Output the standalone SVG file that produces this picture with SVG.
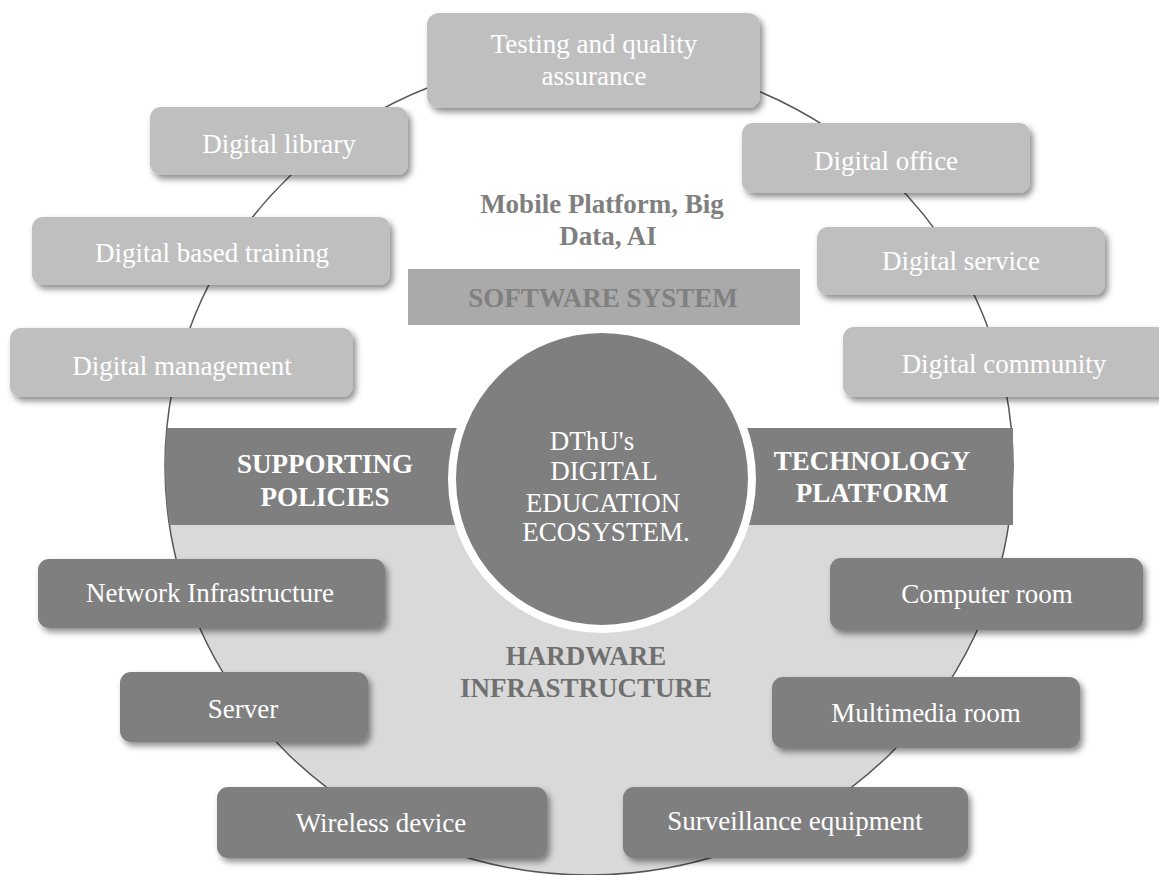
<svg xmlns="http://www.w3.org/2000/svg" width="1159" height="875" viewBox="0 0 1159 875">
  <defs>
    <filter id="shadow" x="-10%" y="-20%" width="130%" height="160%">
      <feDropShadow dx="3" dy="4" stdDeviation="3" flood-color="#000" flood-opacity="0.45"/>
    </filter>
    <clipPath id="ring">
      <ellipse cx="589" cy="466" rx="424" ry="409"/>
    </clipPath>
  </defs>
  <style>
    .light { fill: #bfbfbf; filter: url(#shadow); }
    .dark { fill: #7f7f7f; filter: url(#shadow); }
    .lbl { font-family: "Liberation Serif", "Times New Roman", serif; font-size: 27px; fill: #ffffff; text-anchor: middle; }
    .bold { font-family: "Liberation Serif", "Times New Roman", serif; font-size: 27px; font-weight: bold; text-anchor: middle; }
    .band { fill: #7f7f7f; }
    .conn { fill: none; stroke: #555555; stroke-width: 1.5; }
  </style>

  <rect width="1159" height="875" fill="#ffffff"/>

  <!-- lower half of the ring, shaded -->
  <rect x="0" y="525" width="1159" height="360" fill="#d9d9d9" clip-path="url(#ring)"/>

  <!-- ring outline connecting the surrounding boxes -->
  <g id="connectors">
    <ellipse class="conn" cx="589" cy="466" rx="424" ry="409"/>
  </g>

  <!-- side bands -->
  <g id="supporting-policies">
    <rect class="band" x="160" y="428" width="340" height="97" clip-path="url(#ring)"/>
    <text class="bold" x="325" y="473" fill="#ffffff">SUPPORTING</text>
    <text class="bold" x="325" y="506" fill="#ffffff">POLICIES</text>
  </g>
  <g id="technology-platform">
    <rect class="band" x="700" y="428" width="313" height="97"/>
    <text class="bold" x="872" y="470" fill="#ffffff">TECHNOLOGY</text>
    <text class="bold" x="872" y="502" fill="#ffffff">PLATFORM</text>
  </g>

  <!-- software layer -->
  <g id="software-system">
    <text class="bold" x="602" y="213" fill="#7f7f7f">Mobile Platform, Big</text>
    <text class="bold" x="608" y="245" fill="#7f7f7f">Data, AI</text>
    <rect x="408" y="269" width="392" height="56" fill="#aaaaaa"/>
    <text class="bold" x="603" y="307" fill="#808080">SOFTWARE SYSTEM</text>
  </g>

  <!-- hardware layer label -->
  <g id="hardware-infrastructure">
    <text class="bold" x="586" y="665" fill="#707070">HARDWARE</text>
    <text class="bold" x="586" y="697" fill="#707070">INFRASTRUCTURE</text>
  </g>

  <!-- centre hub -->
  <g id="hub">
    <circle cx="602" cy="479" r="150" fill="#7f7f7f" stroke="#ffffff" stroke-width="8"/>
    <text class="lbl" x="592" y="450">DThU's</text>
    <text class="lbl" x="604" y="480">DIGITAL</text>
    <text class="lbl" x="603" y="512">EDUCATION</text>
    <text class="lbl" x="606" y="541">ECOSYSTEM.</text>
  </g>

  <!-- software services -->
  <g id="testing">
    <rect class="light" x="427" y="13" width="333" height="95" rx="12"/>
    <text class="lbl" x="594" y="53">Testing and quality</text>
    <text class="lbl" x="594" y="85">assurance</text>
  </g>
  <g id="digital-library">
    <rect class="light" x="150" y="107" width="258" height="68" rx="11"/>
    <text class="lbl" x="279" y="153">Digital library</text>
  </g>
  <g id="digital-office">
    <rect class="light" x="742" y="123" width="288" height="70" rx="11"/>
    <text class="lbl" x="886" y="170">Digital office</text>
  </g>
  <g id="digital-based-training">
    <rect class="light" x="32" y="217" width="358" height="68" rx="11"/>
    <text class="lbl" x="212" y="262">Digital based training</text>
  </g>
  <g id="digital-service">
    <rect class="light" x="817" y="227" width="288" height="68" rx="11"/>
    <text class="lbl" x="961" y="270">Digital service</text>
  </g>
  <g id="digital-management">
    <rect class="light" x="10" y="328" width="343" height="69" rx="11"/>
    <text class="lbl" x="182" y="375">Digital management</text>
  </g>
  <g id="digital-community">
    <rect class="light" x="843" y="327" width="325" height="70" rx="11"/>
    <text class="lbl" x="1004" y="373">Digital community</text>
  </g>

  <!-- hardware items -->
  <g id="network-infrastructure">
    <rect class="dark" x="38" y="559" width="347" height="69" rx="11"/>
    <text class="lbl" x="210" y="602">Network Infrastructure</text>
  </g>
  <g id="computer-room">
    <rect class="dark" x="830" y="558" width="313" height="72" rx="11"/>
    <text class="lbl" x="987" y="603">Computer room</text>
  </g>
  <g id="server">
    <rect class="dark" x="120" y="672" width="248" height="70" rx="11"/>
    <text class="lbl" x="243" y="718">Server</text>
  </g>
  <g id="multimedia-room">
    <rect class="dark" x="772" y="677" width="308" height="71" rx="11"/>
    <text class="lbl" x="926" y="722">Multimedia room</text>
  </g>
  <g id="wireless-device">
    <rect class="dark" x="217" y="787" width="330" height="71" rx="11"/>
    <text class="lbl" x="381" y="832">Wireless device</text>
  </g>
  <g id="surveillance-equipment">
    <rect class="dark" x="623" y="787" width="345" height="71" rx="11"/>
    <text class="lbl" x="795" y="830">Surveillance equipment</text>
  </g>
</svg>
